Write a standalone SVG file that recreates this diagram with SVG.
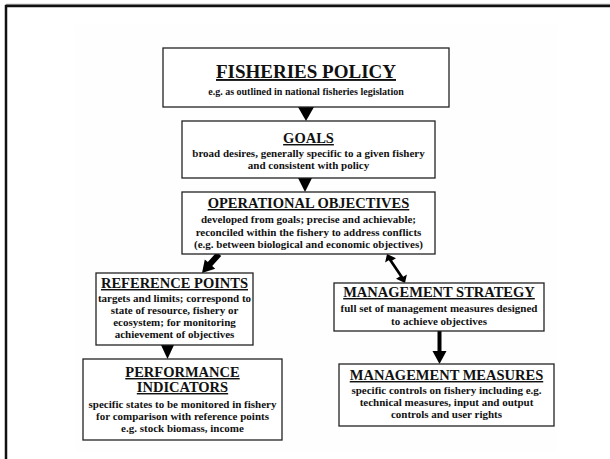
<svg xmlns="http://www.w3.org/2000/svg" width="610" height="459" viewBox="0 0 610 459">
  <style>
    text { font-family: "Liberation Serif", "DejaVu Serif", serif; font-weight: bold; fill: #111; text-anchor: middle; }
    .h1 { font-size: 19px; text-decoration: underline; }
    .h2 { font-size: 14.5px; text-decoration: underline; }
    .b { font-size: 11px; }
    .box { fill: #fff; stroke: #222; stroke-width: 1.3; }
    .arr { fill: #000; stroke: none; }
  </style>

  <!-- page background and slide frame -->
  <rect x="0" y="0" width="610" height="459" fill="#fff"/>
  <rect x="75" y="25" width="482" height="427" fill="#fefefe"/>
  <line x1="6" y1="4.3" x2="610" y2="4.3" stroke="#888" stroke-width="1"/>
  <path d="M6,459 V6 H610" fill="none" stroke="#111" stroke-width="2.5"/>

  <!-- connectors -->
  <g id="connectors">
    <!-- policy -> goals -->
    <polygon class="arr" points="298,107 314,107 306,121"/>
    <!-- goals -> operational objectives -->
    <polygon class="arr" points="298,178 312,178 305,192"/>
    <!-- operational objectives -> reference points -->
    <polygon class="arr" points="221.2,256 216.8,252 207.8,262.1 204.8,259.4 202,273 215.2,268.8 212.2,266.1"/>
    <!-- operational objectives <-> management strategy -->
    <polygon class="arr" points="387,254 396,258.2 392.2,260.4 403.2,276.8 406.9,274.6 405,283 396,278.8 399.8,276.6 388.8,260.2 385.1,262.4"/>
    <!-- management strategy -> management measures -->
    <rect class="arr" x="437.5" y="331" width="4" height="21"/>
    <polygon class="arr" points="432.5,351 446.5,351 439.5,364"/>
    <!-- reference points -> performance indicators -->
    <polygon class="arr" points="161,345 174,345 167.5,359"/>
  </g>

  <g id="fisheries-policy">
    <rect class="box" x="163" y="48" width="286" height="59"/>
    <text class="h1" x="306" y="78">FISHERIES POLICY</text>
    <text class="b" x="306" y="95" style="font-size:10px">e.g. as outlined in national fisheries legislation</text>
  </g>

  <g id="goals">
    <rect class="box" x="182" y="121" width="253" height="57"/>
    <text class="h2" x="308.5" y="143">GOALS</text>
    <text class="b" x="308.5" y="157">broad desires, generally specific to a given fishery</text>
    <text class="b" x="308.5" y="169">and consistent with policy</text>
  </g>

  <g id="operational-objectives">
    <rect class="box" x="182" y="192" width="253" height="62"/>
    <text class="h2" x="308.5" y="208">OPERATIONAL OBJECTIVES</text>
    <text class="b" x="308.5" y="223">developed from goals; precise and achievable;</text>
    <text class="b" x="308.5" y="236">reconciled within the fishery to address conflicts</text>
    <text class="b" x="308.5" y="248">(e.g. between biological and economic objectives)</text>
  </g>

  <g id="reference-points">
    <rect class="box" x="96" y="273" width="157" height="72"/>
    <text class="h2" x="174.5" y="288">REFERENCE POINTS</text>
    <text class="b" x="174.5" y="302">targets and limits; correspond to</text>
    <text class="b" x="174.5" y="314">state of resource, fishery or</text>
    <text class="b" x="174.5" y="326">ecosystem; for monitoring</text>
    <text class="b" x="174.5" y="338">achievement of objectives</text>
  </g>

  <g id="performance-indicators">
    <rect class="box" x="83" y="359" width="199" height="81"/>
    <text class="h2" x="182.5" y="377">PERFORMANCE</text>
    <text class="h2" x="182.5" y="392">INDICATORS</text>
    <text class="b" x="182.5" y="408">specific states to be monitored in fishery</text>
    <text class="b" x="182.5" y="420">for comparison with reference points</text>
    <text class="b" x="182.5" y="432">e.g. stock biomass, income</text>
  </g>

  <g id="management-strategy">
    <rect class="box" x="334" y="283" width="210" height="48"/>
    <text class="h2" x="439" y="297">MANAGEMENT STRATEGY</text>
    <text class="b" x="439" y="312">full set of management measures designed</text>
    <text class="b" x="439" y="325">to achieve objectives</text>
  </g>

  <g id="management-measures">
    <rect class="box" x="339" y="364" width="215" height="62"/>
    <text class="h2" x="446.5" y="380">MANAGEMENT MEASURES</text>
    <text class="b" x="446.5" y="394">specific controls on fishery including e.g.</text>
    <text class="b" x="446.5" y="406">technical measures, input and output</text>
    <text class="b" x="446.5" y="418">controls and user rights</text>
  </g>
</svg>
